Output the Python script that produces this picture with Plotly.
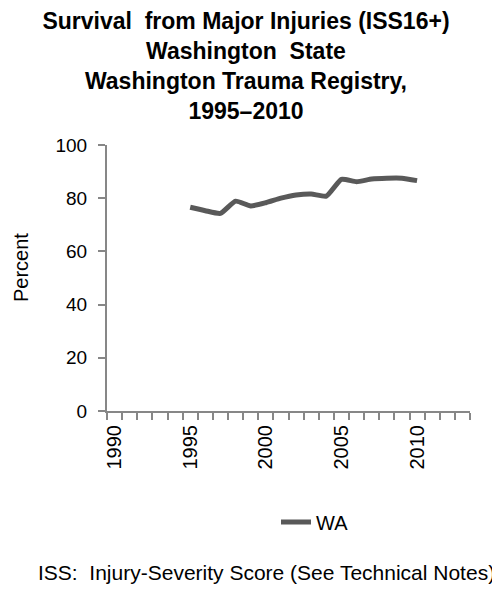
import plotly.graph_objects as go

years = [1995, 1996, 1997, 1998, 1999, 2000, 2001, 2002, 2003, 2004, 2005, 2006, 2007, 2008, 2009, 2010]
survival_pct = [76.6, 75.3, 74.3, 78.9, 77.1, 78.3, 80.0, 81.2, 81.6, 80.8, 87.1, 86.2, 87.2, 87.5, 87.5, 86.6]
x_tick_years = [1990, 1995, 2000, 2005, 2010]
y_ticks = [0, 20, 40, 60, 80, 100]
series_name = "WA"

FONT = "Liberation Sans, Arial, sans-serif"
AXIS_GRAY = "#878787"

W, H = 492, 583
L, R, T, B = 99, 30, 137, 180
PW, PH = W - L - R, H - T - B

fig = go.Figure()
fig.add_trace(go.Scatter(
    x=years, y=survival_pct, mode="lines", name=series_name,
    line=dict(color="#595959", width=5, shape="spline", smoothing=0.5),
    showlegend=True,
))

fig.update_layout(
    width=W, height=H,
    paper_bgcolor="white", plot_bgcolor="white",
    margin=dict(l=L, r=R, t=T, b=B, autoexpand=False),
    font=dict(family=FONT, color="black", size=19),
    title=dict(
        text="<b>Survival  from Major Injuries (ISS16+)<br>Washington  State<br>Washington Trauma Registry,<br>1995–2010</b>",
        x=238 / W, xanchor="center", xref="container",
        y=1 - 21 / H, yanchor="top", yref="container",
        font=dict(family=FONT, size=23, color="black"),
    ),
    showlegend=True,
    legend=dict(
        orientation="h", x=307 / W, xanchor="center", xref="container",
        y=1 - 514 / H, yanchor="middle", yref="container",
        font=dict(family=FONT, size=20, color="black"),
        bgcolor="rgba(0,0,0,0)",
    ),
)

fig.update_xaxes(
    range=[1989.5, 2013.5],
    tickmode="array", tickvals=x_tick_years, ticktext=[str(v) for v in x_tick_years],
    tickangle=-90, ticks="outside", ticklen=0, tickfont=dict(size=20),
    showline=True, linecolor=AXIS_GRAY, linewidth=2,
    showgrid=False, zeroline=False,
    ticklabelstandoff=4,
    minor=dict(tick0=1989.5, dtick=1, ticks="outside", ticklen=7, tickcolor=AXIS_GRAY, tickwidth=2, showgrid=False),
)
fig.update_yaxes(
    range=[0, 100], tickmode="array", tickvals=y_ticks,
    ticks="outside", ticklen=7, tickcolor=AXIS_GRAY, tickwidth=2,
    showline=True, linecolor=AXIS_GRAY, linewidth=2,
    showgrid=False, zeroline=False, tickfont=dict(size=19),
    ticklabelstandoff=7,
)

fig.add_annotation(
    text="Percent", textangle=-90, xref="paper", yref="paper",
    x=(0 - L) / PW, y=(H - B - 260) / PH, xanchor="left", yanchor="middle",
    showarrow=False, font=dict(family=FONT, size=20, color="black"),
)
fig.add_annotation(
    text="ISS:  Injury-Severity Score (See Technical Notes)", xref="paper", yref="paper",
    x=(258 - L) / PW, y=(H - B - 564) / PH, xanchor="center", yanchor="middle",
    showarrow=False, font=dict(family=FONT, size=21, color="black"),
)

fig.write_html("out.html")
